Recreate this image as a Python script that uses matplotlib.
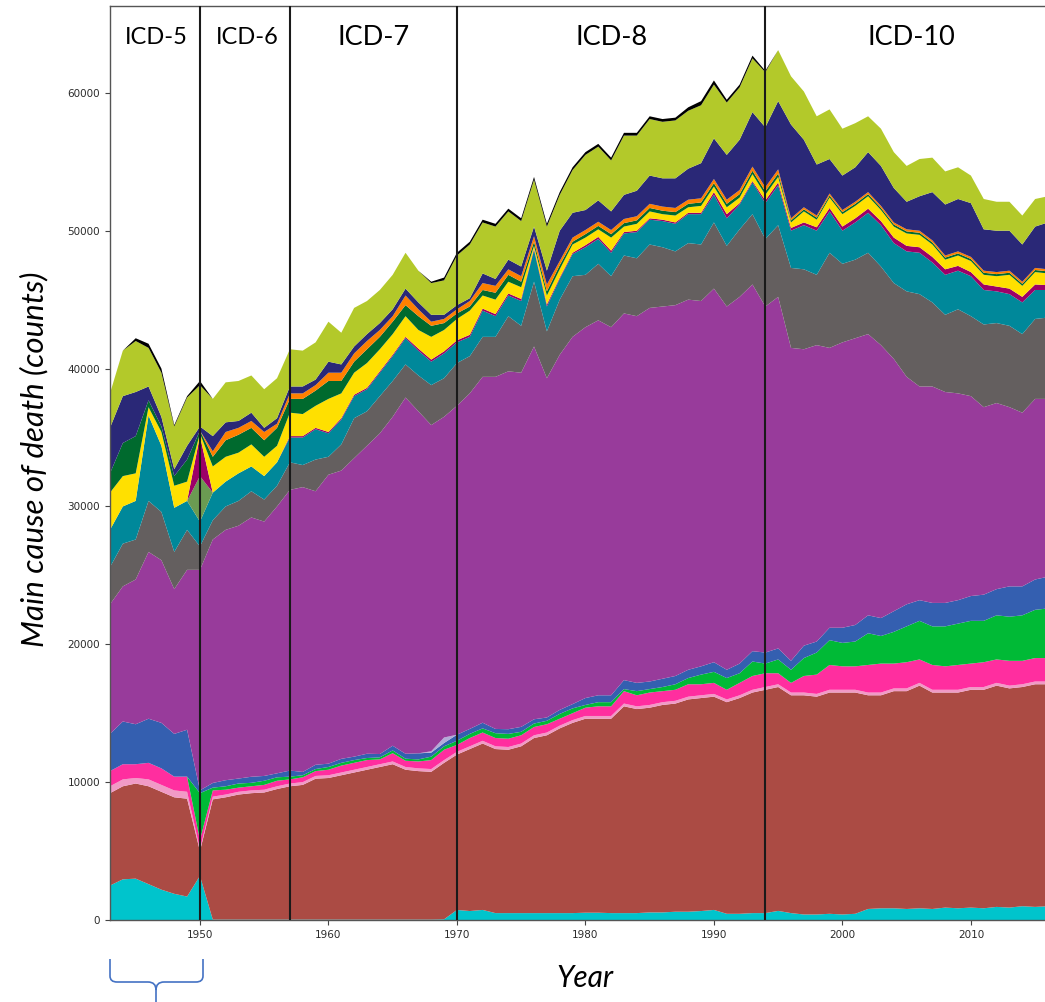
import numpy as np
import matplotlib
matplotlib.use("Agg")
import matplotlib.pyplot as plt
from matplotlib.path import Path
from matplotlib.patches import PathPatch

years = np.arange(1943, 2017)

# yearly death counts per main cause, stacked from the bottom up
# (each list: 1943-49, 1950-59, ..., 2010-16)
turquoise = [2500, 2950, 3000, 2600, 2200, 1900, 1700,
             3200, 30, 30, 30, 30, 30, 30, 30, 30, 30,
             30, 30, 30, 30, 30, 30, 30, 30, 30, 50,
             730, 650, 730, 500, 500, 500, 500, 500, 500, 500,
             530, 530, 500, 500, 500, 550, 550, 600, 600, 650,
             730, 450, 450, 500, 500, 660, 500, 400, 400, 450,
             400, 450, 800, 850, 850, 800, 850, 800, 900, 850,
             900, 850, 950, 900, 1000, 950, 1000]
brick = [6700, 6750, 6900, 7100, 7100, 7000, 7100,
         1800, 8720, 8870, 9070, 9170, 9220, 9470, 9670, 9770, 10220,
         10270, 10470, 10670, 10870, 11070, 11270, 10870, 10770, 10720, 11350,
         11270, 11750, 12070, 11900, 11850, 12100, 12700, 12900, 13400, 13800,
         14070, 14070, 14100, 15000, 14800, 14850, 15050, 15100, 15400, 15450,
         15470, 15350, 15650, 16000, 16200, 16240, 15800, 15900, 15800, 16050,
         16100, 16050, 15500, 15450, 15750, 15800, 16150, 15700, 15600, 15650,
         15800, 15850, 16050, 15900, 15900, 16150, 16100]
pale_pink = [500, 500, 400, 500, 500, 500, 500, 150] + [200] * 66
pink = [1100, 1100, 1000, 1200, 1200, 1000, 1100,
        650, 450, 350, 300, 300, 350, 400, 300, 350, 350,
        400, 500, 500, 500, 350, 600, 450, 500, 650, 750,
        500, 600, 600, 600, 600, 600, 600, 600, 500, 500,
        600, 700, 700, 900, 800, 900, 800, 800, 900, 800,
        800, 700, 900, 1000, 1000, 800, 700, 1200, 1400, 1800,
        1700, 1700, 2000, 2100, 1800, 1900, 1700, 1800, 1700, 1800,
        1700, 1800, 1700, 1800, 1700, 1700, 1700]
green = [0, 0, 0, 0, 0, 0, 0,
         3400, 200, 250, 300, 250, 300, 250, 200, 150, 150,
         200, 200, 200, 150, 150, 200, 150, 150, 250, 250,
         300, 300, 300, 350, 350, 250, 250, 250, 350, 350,
         200, 300, 300, 150, 300, 250, 300, 400, 450, 700,
         800, 850, 700, 1050, 700, 1000, 950, 1300, 1600, 1800,
         1700, 1800, 2300, 2000, 2300, 2600, 2800, 2800, 2900, 3000,
         3100, 3000, 3200, 3200, 3300, 3500, 3600]
blue = [2700, 3100, 2900, 3200, 3300, 3100, 3400,
        200, 340, 440, 360, 440, 350, 290, 440, 240, 310,
        240, 290, 250, 310, 240, 340, 360, 440, 290, 240,
        440, 360, 410, 310, 340, 360, 310, 240, 290, 310,
        500, 500, 500, 650, 600, 550, 600, 600, 600, 600,
        700, 600, 700, 750, 800, 800, 650, 900, 800, 900,
        1100, 1200, 1300, 1300, 1500, 1600, 1500, 1700, 1700, 1700,
        1800, 1900, 1900, 2200, 2100, 2200, 2300]
lavender = [0] * 25 + [100, 400] + [0] * 47
purple = [9400, 9800, 10500, 12100, 11800, 10500, 11600,
          16000, 17660, 18160, 18340, 18810, 18450, 19360, 20360, 20660, 19840,
          20960, 20910, 21650, 22340, 23260, 23860, 25840, 24810, 23660, 23260,
          23860, 24340, 25090, 25540, 25960, 25690, 27040, 24610, 25760, 26640,
          26900, 27200, 26700, 26600, 26600, 27100, 27000, 26900, 26850, 26500,
          27100, 26350, 26600, 26600, 25100, 25500, 22700, 21500, 21500, 20300,
          20700, 20800, 20400, 19800, 18300, 16500, 15500, 15700, 15300, 15000,
          14500, 13600, 13500, 13000, 12600, 13100, 12900]
grey = [2700, 3100, 2900, 3700, 3500, 2700, 2900,
        1700, 1400, 1700, 1800, 1900, 1600, 1500, 2000, 1600, 2300,
        1300, 1900, 2900, 2500, 2700, 2600, 2400, 2600, 2900, 2800,
        3100, 2700, 2900, 2900, 4000, 3400, 4700, 3400, 4000, 4400,
        3800, 4100, 3700, 4200, 4200, 4600, 4300, 3900, 4100, 4100,
        4800, 4400, 4900, 5100, 4900, 5200, 5800, 5800, 5100, 6900,
        5700, 5700, 5900, 5700, 5500, 6200, 6700, 6100, 5600, 6100,
        5800, 6000, 5800, 5900, 5700, 5800, 5900]
teal = [2700, 2700, 2800, 6200, 4800, 3200, 2100,
        1800, 2000, 1800, 2000, 1800, 1700, 1700, 1800, 2000, 2200,
        1700, 1800, 1600, 1600, 1700, 1800, 1900, 1800, 1700, 1800,
        1500, 1400, 1900, 1500, 1500, 1800, 2300, 1800, 1500, 1600,
        2000, 1800, 1700, 1600, 1900, 1800, 1900, 2000, 2100, 2200,
        2000, 2000, 1800, 2300, 2600, 2900, 2700, 3200, 3200, 3000,
        2400, 2700, 2900, 3000, 2900, 2900, 3000, 2900, 2900, 2800,
        2900, 2500, 2300, 2300, 2300, 2100, 2000]
olive = [0] * 7 + [3300] + [0] * 66
plum = [0, 0, 0, 0, 0, 0, 0,
        2900, 0, 0, 0, 0, 0, 0, 100, 100, 100,
        100, 100, 100, 100, 100, 100, 100, 150, 150, 150,
        150, 150, 150, 150, 150, 150, 100, 150, 100, 100,
        150, 150, 150, 100, 100, 100, 100, 100, 100, 100,
        200, 300, 100, 100, 200, 200, 200, 200, 250, 250,
        300, 300, 300, 300, 400, 400, 400, 400, 400, 350,
        300, 400, 350, 400, 400, 400, 350]
yellow = [2700, 2200, 2000, 600, 1000, 1600, 1400,
          200, 1900, 1800, 1500, 1600, 1400, 1200, 1700, 1600, 1600,
          2400, 1800, 1600, 1800, 1600, 1500, 1500, 1350, 1650, 1550,
          1550, 1750, 950, 1050, 850, 850, 200, 650, 600, 600,
          550, 550, 950, 400, 500, 500, 400, 500, 400, 500,
          400, 500, 400, 500, 400, 400, 400, 800, 550, 750,
          900, 900, 900, 800, 800, 900, 900, 900, 700, 750,
          800, 700, 750, 1000, 800, 900, 850]
forest = [1400, 2400, 2700, 500, 400, 700, 1600,
          200, 700, 1200, 1300, 1200, 1200, 1300, 1000, 1100, 1100,
          1300, 900, 800, 1000, 900, 900, 800, 1000, 800, 500,
          400, 300, 400, 500, 500, 400, 300, 300, 300, 200,
          250, 250, 250, 250, 250, 250, 250, 250, 250, 250,
          250, 250, 250, 250, 250, 250, 150, 150, 150, 150] + [150] * 17
orange = [0, 0, 0, 0, 0, 0, 0,
          0, 400, 600, 500, 500, 600, 300, 400, 400, 400,
          600, 600, 600, 600, 500, 400, 700, 500, 300, 300,
          300, 400, 500, 500, 400, 400, 400, 500, 300, 300] + [300] * 16 + [150] * 21
navy = [3300, 3400, 3200, 1000, 700, 500, 1000,
        300, 1100, 700, 500, 600, 300, 400, 500, 500, 400,
        800, 600, 500, 500, 500, 500, 500, 500, 500, 300,
        300, 200, 700, 500, 700, 700, 700, 1000, 2200, 1800,
        1450, 1550, 1350, 1750, 1850, 2050, 2050, 2150, 2250, 2550,
        2950, 3250, 3650, 3950, 4350, 4950, 6800, 4900, 3700, 2500,
        2500, 2500, 2900, 2900, 2500, 2000, 2500, 3500, 3700, 3800,
        3900, 3000, 3000, 2900, 2700, 3000, 3400]
lime = [2500, 3300, 3700, 2800, 3200, 3100, 3500,
        3000, 2700, 2900, 2900, 2700, 2800, 2900, 2700, 2600, 2700,
        2900, 2300, 2800, 2400, 2400, 2500, 2600, 2300, 2300, 2500,
        3600, 3900, 3700, 3800, 3500, 3300, 3400, 3200, 2600, 3100,
        4000, 3900, 3700, 4300, 4000, 4100, 4100, 4200, 4200, 4200,
        3900, 3800, 3800, 3900, 4000, 3700, 3500, 3500, 3500, 3600,
        3400, 3200, 2600, 2700, 2600, 2600, 2700, 2500, 2400, 2300,
        2000, 2200, 2100, 2100, 2100, 2000, 1900]
black = [0, 0, 200, 300, 300, 100, 100,
         300, 0, 0, 0, 0, 0, 0, 0, 0, 0,
         0, 0, 0, 0, 0, 0, 0, 0, 100, 200,
         200, 200, 200, 200, 200, 200, 200, 200, 200, 200,
         200, 200, 200, 200, 200, 200, 200, 200, 250, 300,
         300, 200, 200, 200, 100, 0, 0, 0, 0, 0] + [0] * 17

series = [turquoise, brick, pale_pink, pink, green, blue, lavender, purple,
          grey, teal, olive, plum, yellow, forest, orange, navy, lime, black]
colors = ['#00c4cc', '#ab4b44', '#f19ac6', '#ff2e9f', '#00ba36', '#345fb0',
          '#b3aad8', '#983b9b', '#645f5f', '#00889a', '#6b9b52', '#9c0068',
          '#ffe000', '#006a2e', '#ff8000', '#2a2877', '#b3c92a', '#000000']

icd_breaks = [1950, 1957, 1970, 1994]
icd_names = ['ICD-5', 'ICD-6', 'ICD-7', 'ICD-8', 'ICD-10']
icd_mid = [1946.6, 1953.7, 1963.5, 1982.0, 2005.4]
icd_size = [17, 17, 19.5, 19.5, 19.5]

W, H = 1045, 1002
fig = plt.figure(figsize=(W / 100, H / 100), dpi=100)
ax = fig.add_axes([110 / W, 1 - 920 / H, (1048 - 110) / W, (920 - 6) / H])

ax.stackplot(years, *series, colors=colors, linewidth=0)

for yr in icd_breaks:
    ax.axvline(yr, color='#1a1a1a', lw=1.5, zorder=5)

for name, xm, fs in zip(icd_names, icd_mid, icd_size):
    ax.text(xm, 64000, name, ha='center', va='center', fontsize=fs,
            family='Lato', color='black')

ax.set_xlim(1943, 2016)
ax.set_ylim(0, 66300)
ax.set_xticks(range(1950, 2011, 10))
ax.set_yticks(range(0, 60001, 10000))
ax.tick_params(labelsize=7.5, labelcolor='#2b2b2b', color='#444444',
               length=3.5, width=0.8)
for side in ['left', 'bottom', 'top', 'right']:
    ax.spines[side].set_color('#555555')
    ax.spines[side].set_linewidth(1.0)

fig.text(34 / W, 1 - 459 / H, 'Main cause of death (counts)', rotation=90,
         ha='center', va='center', fontsize=22.5, style='italic', family='Lato')
fig.text(585 / W, 1 - 978 / H, 'Year', ha='center', va='center',
         fontsize=21.5, style='italic', family='Lato')

# curly brace under the first ICD period
def px(x, y):
    return (x / W, 1 - y / H)

verts = [px(110, 959), px(110, 976), px(110, 982), px(117, 982),
         px(148, 982), px(156, 982), px(156, 990), px(156, 1002),
         px(156, 990), px(156, 982), px(164, 982),
         px(196, 982), px(203, 982), px(203, 976), px(203, 959)]
codes = [Path.MOVETO, Path.LINETO, Path.CURVE3, Path.CURVE3,
         Path.LINETO, Path.CURVE3, Path.CURVE3, Path.LINETO,
         Path.MOVETO, Path.CURVE3, Path.CURVE3,
         Path.LINETO, Path.CURVE3, Path.CURVE3, Path.LINETO]
brace = PathPatch(Path(verts, codes), transform=fig.transFigure,
                  fill=False, edgecolor='#4472c4', lw=1.2)
fig.patches.append(brace)

fig.savefig('out.png', dpi=100)
